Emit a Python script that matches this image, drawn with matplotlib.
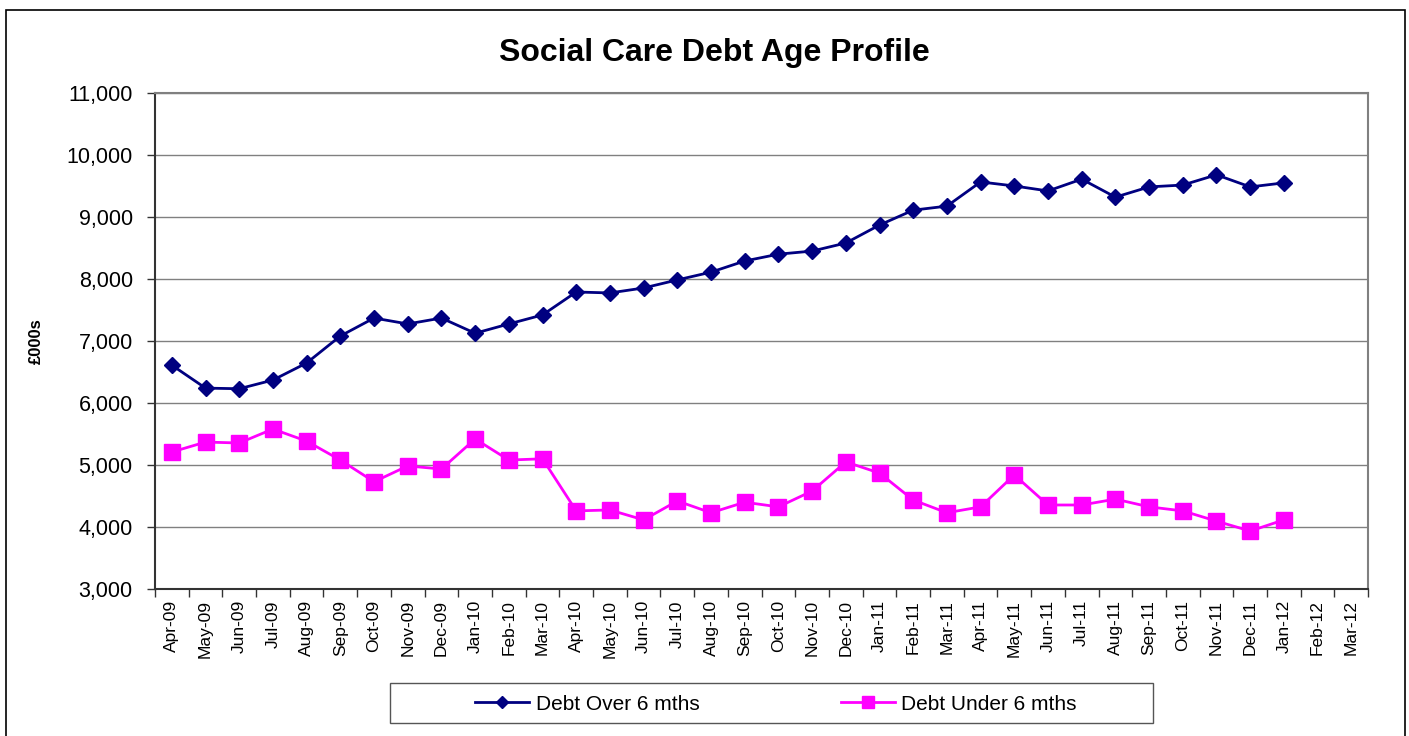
import matplotlib
matplotlib.use("Agg")
import matplotlib.pyplot as plt
from matplotlib.patches import Rectangle
from matplotlib.ticker import FuncFormatter, FixedLocator

plt.rcParams['font.family'] = ['Liberation Sans', 'DejaVu Sans']

# months on the category axis
months = ["Apr-09", "May-09", "Jun-09", "Jul-09", "Aug-09", "Sep-09", "Oct-09", "Nov-09",
          "Dec-09", "Jan-10", "Feb-10", "Mar-10", "Apr-10", "May-10", "Jun-10", "Jul-10",
          "Aug-10", "Sep-10", "Oct-10", "Nov-10", "Dec-10", "Jan-11", "Feb-11", "Mar-11",
          "Apr-11", "May-11", "Jun-11", "Jul-11", "Aug-11", "Sep-11", "Oct-11", "Nov-11",
          "Dec-11", "Jan-12", "Feb-12", "Mar-12"]

# £000s, data up to Jan-12
debt_over = [6610, 6240, 6230, 6370, 6645, 7080, 7370, 7275, 7370, 7125, 7275, 7420,
             7790, 7775, 7855, 7985, 8110, 8290, 8400, 8450, 8580, 8870, 9110, 9175,
             9565, 9500, 9420, 9610, 9320, 9485, 9515, 9680, 9485, 9550]
debt_under = [5210, 5370, 5355, 5580, 5385, 5080, 4730, 4985, 4935, 5420, 5080, 5100,
              4260, 4275, 4115, 4420, 4230, 4400, 4325, 4580, 5050, 4870, 4435, 4230,
              4325, 4840, 4355, 4355, 4450, 4325, 4260, 4095, 3935, 4115]

fig = plt.figure(figsize=(14.09, 7.36), dpi=100)
ax = fig.add_axes([0.110, 0.1997, 0.861, 0.674])

# outer chart frame
fig.patches.append(Rectangle((6 / 1409, -0.05), 1399 / 1409, 1.05 - 10 / 736,
                             transform=fig.transFigure, fill=False,
                             edgecolor='black', linewidth=1.2))

x_over = list(range(len(debt_over)))
x_under = list(range(len(debt_under)))
ax.plot(x_over, debt_over, color='#000080', lw=2, marker='D', ms=8.5,
        label='Debt Over 6 mths', zorder=3)
ax.plot(x_under, debt_under, color='#FF00FF', lw=2, marker='s', ms=11,
        label='Debt Under 6 mths', zorder=3)

ax.set_xlim(-0.5, len(months) - 0.5)
ax.set_ylim(3000, 11000)
ax.set_yticks(range(3000, 11001, 1000))
ax.yaxis.set_major_formatter(FuncFormatter(lambda v, p: f"{int(v):,}"))
ax.grid(axis='y', color='#808080', lw=1)
ax.set_axisbelow(True)

# tick marks at category boundaries, labels at centres
ax.xaxis.set_major_locator(FixedLocator([i - 0.5 for i in range(len(months) + 1)]))
ax.xaxis.set_major_formatter(FuncFormatter(lambda v, p: ""))
ax.xaxis.set_minor_locator(FixedLocator(list(range(len(months)))))
ax.set_xticklabels(months, minor=True, rotation=90, fontsize=12.5)
ax.tick_params(axis='x', which='major', length=6, width=1, color='#333333')
ax.tick_params(axis='x', which='minor', length=0, pad=8)
ax.tick_params(axis='y', length=6, width=1, color='#333333', labelsize=15.5, pad=10)

for s in ['top', 'right']:
    ax.spines[s].set_color('#808080')
    ax.spines[s].set_linewidth(1.5)
for s in ['left', 'bottom']:
    ax.spines[s].set_color('#333333')
    ax.spines[s].set_linewidth(1.5)

ax.set_ylabel('£000s', fontsize=12, fontweight='bold', labelpad=16)
fig.text(714 / 1409, 1 - 53 / 736, 'Social Care Debt Age Profile', ha='center', va='center',
         fontsize=23, fontweight='bold')

# legend box drawn separately, entries laid out inside it
fig.patches.append(Rectangle((390 / 1409, 1 - 723 / 736), 763 / 1409, 40 / 736,
                             transform=fig.transFigure, fill=False,
                             edgecolor='#555555', linewidth=1))
leg = fig.legend(loc='center', bbox_to_anchor=(776 / 1409, 1 - 704 / 736),
                 ncol=2, frameon=False, borderaxespad=0, fontsize=15,
                 handlelength=2.6, handletextpad=0.3, columnspacing=6.8,
                 markerscale=0.75)

fig.savefig('out.png', dpi=100)
